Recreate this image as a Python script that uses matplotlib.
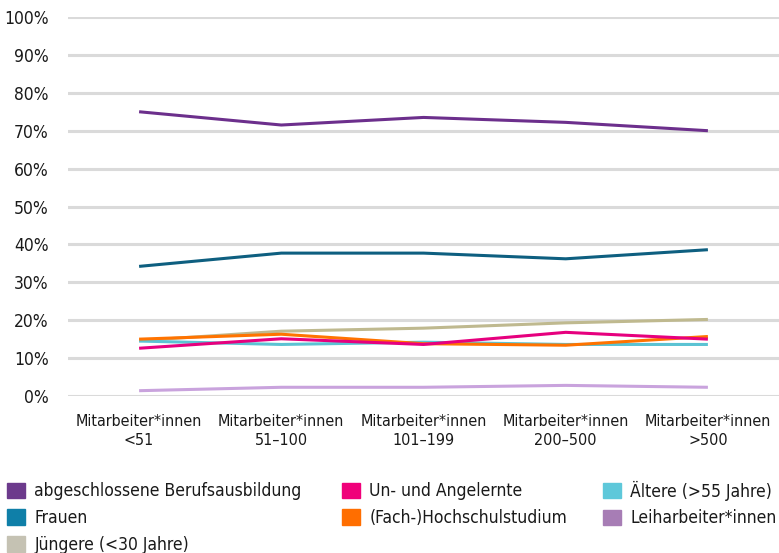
import matplotlib
matplotlib.use("Agg")
import matplotlib.pyplot as plt
import matplotlib.patches as mpatches

plt.rcParams['font.family'] = ['DejaVu Sans']
plt.rcParams['font.stretch'] = 'condensed'

# categories (company size)
categories = ["Mitarbeiter*innen\n<51", "Mitarbeiter*innen\n51\u2013100", "Mitarbeiter*innen\n101\u2013199",
              "Mitarbeiter*innen\n200\u2013500", "Mitarbeiter*innen\n>500"]

# shares in percent
berufsausbildung = [75.0, 71.5, 73.5, 72.2, 70.0]
frauen = [34.2, 37.7, 37.7, 36.2, 38.6]
juengere = [14.6, 17.1, 17.9, 19.3, 20.2]
angelernte = [12.6, 15.1, 13.6, 16.8, 15.0]
hochschule = [15.0, 16.3, 13.8, 13.4, 15.7]
aeltere = [14.5, 13.6, 14.2, 13.6, 13.6]
leiharbeit = [1.4, 2.3, 2.3, 2.8, 2.3]

y_ticks = [0, 10, 20, 30, 40, 50, 60, 70, 80, 90, 100]

# (label, values, line colour, legend swatch colour) in legend order
series = [
    ("abgeschlossene Berufsausbildung", berufsausbildung, "#6c2f8c", "#6c3a8c"),
    ("Frauen", frauen, "#0e5f80", "#0f7fa8"),
    ("Jüngere (<30 Jahre)", juengere, "#bfb98f", "#c5c2b3"),
    ("Un- und Angelernte", angelernte, "#e6007e", "#f0007a"),
    ("(Fach-)Hochschulstudium", hochschule, "#ff7300", "#ff6e00"),
    ("Ältere (>55 Jahre)", aeltere, "#5bc3d3", "#5ec8da"),
    ("Leiharbeiter*innen", leiharbeit, "#c9a3dd", "#a77db5"),
]

# draw order (back to front)
draw_order = [2, 5, 4, 3, 6, 1, 0]

W, H = 779, 553
fig = plt.figure(figsize=(W / 100, H / 100), dpi=100)
ax = fig.add_axes([68 / W, 1 - 396 / H, 1 - 68 / W, (396 - 17) / H])

x = list(range(len(categories)))
for i in draw_order:
    label, vals, lc, _ = series[i]
    ax.plot(x, vals, color=lc, lw=2.2, solid_capstyle='butt', zorder=3)

ax.set_xlim(-0.5, len(categories) - 0.5)
ax.set_ylim(0, 100)
ax.set_yticks(y_ticks)
ax.set_yticklabels([f"{v}%" for v in y_ticks])
ax.set_xticks(x)
ax.set_xticklabels(categories, linespacing=1.35)
ax.yaxis.grid(True, color="#dadada", lw=2.2, zorder=0)
ax.set_axisbelow(True)
for s in ax.spines.values():
    s.set_visible(False)
ax.tick_params(axis='both', length=0, colors="#1a1a1a")
ax.tick_params(axis='y', pad=14, labelsize=12.5)
ax.tick_params(axis='x', pad=13, labelsize=11.5)

# legend in three columns placed at fixed x positions
# (third column nudged up: the "Ä" makes its first row taller)
col_pos = [(4, 479), (339, 479), (600, 477)]
col_items = [[0, 1, 2], [3, 4], [5, 6]]
for (cx, cy), items in zip(col_pos, col_items):
    handles = [mpatches.Patch(color=series[i][3], label=series[i][0]) for i in items]
    leg = fig.legend(handles=handles, loc='upper left', bbox_to_anchor=(cx / W, 1 - cy / H),
                     ncol=1, frameon=False, fontsize=12.5, handlelength=1.0, handleheight=1.0,
                     handletextpad=0.55, labelspacing=0.5, borderaxespad=0, borderpad=0.2)
    for t in leg.get_texts():
        t.set_color("#1a1a1a")

fig.savefig("out.png", dpi=100)
